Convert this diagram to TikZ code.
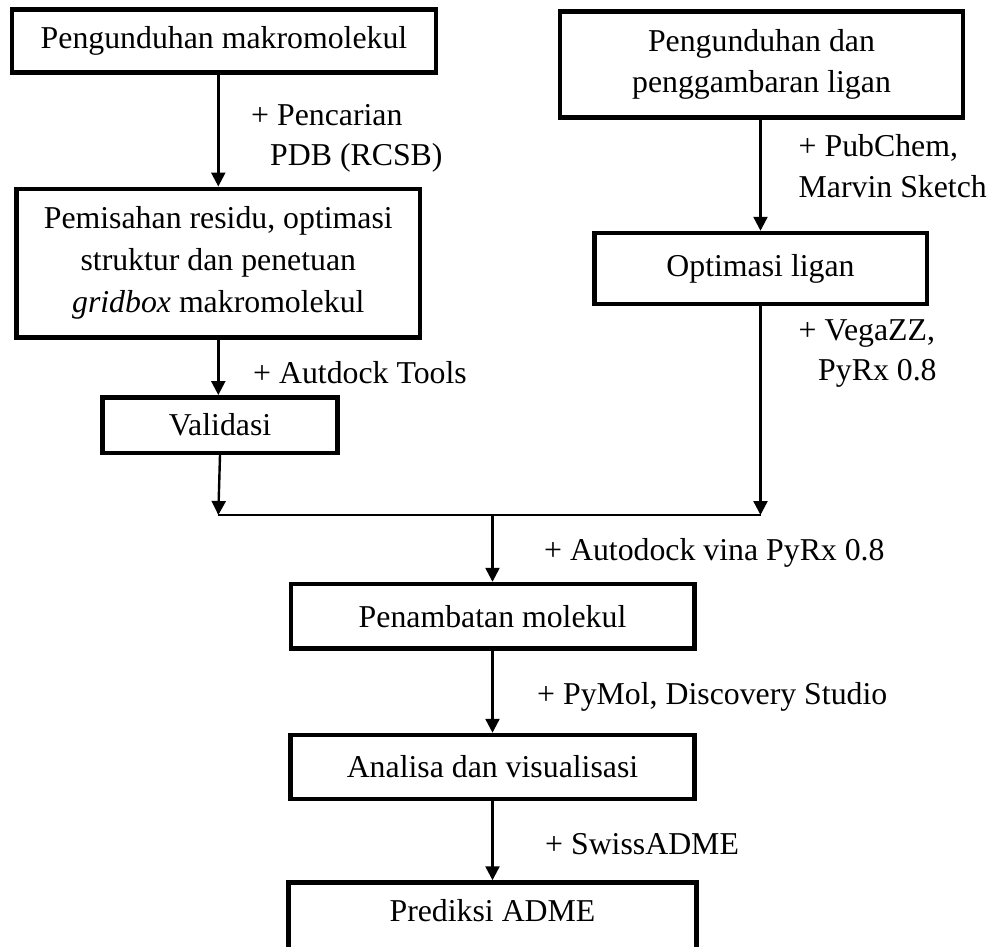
\documentclass[tikz,border=0pt]{standalone}
\usepackage{fontspec}
\setmainfont{Liberation Serif}
\usetikzlibrary{arrows.meta}
\begin{document}
\begin{tikzpicture}[x=1pt,y=-1pt,
  txt/.style={font={\fontsize{31.8}{41.7}\selectfont}},
  box/.style={txt, draw, line width=4.5pt, inner sep=0pt, align=center},
  lab/.style={txt, anchor=base west, inner sep=0pt},
  conn/.style={line width=2.4pt},
  arr/.style={conn, -{Triangle[width=14pt,length=14pt]}}]
\useasboundingbox (0,0) rectangle (993,946);
\clip (0,0) rectangle (993,946);
% boxes
\node[box, minimum width=424pt, minimum height=63pt] (b1) at (224,40.8) {Pengunduhan makromolekul};
\node[box, minimum width=403.5pt, minimum height=148.5pt] (b2) at (218.3,263) {Pemisahan residu, optimasi\\struktur dan penetuan\\\textit{gridbox} makromolekul};
\node[box, minimum width=235pt, minimum height=55.5pt] (b3) at (220,425) {Validasi};
\node[box, minimum width=403pt, minimum height=106pt] (r1) at (761.5,64.5) {Pengunduhan dan\\penggambaran ligan};
\node[box, minimum width=332.5pt, minimum height=71pt] (r2) at (760.5,268.5) {Optimasi ligan};
\node[box, minimum width=403.5pt, minimum height=64.5pt] (pen) at (492.5,616.3) {Penambatan molekul};
\node[box, minimum width=404pt, minimum height=64pt] (ana) at (492.5,767) {Analisa dan visualisasi};
\node[box, minimum width=408pt, text height=39.2pt, text depth=40pt, anchor=base] (pred) at (492.5,921.7) {Prediksi ADME};
% junction points
\coordinate (jl) at (218.3,515);
\coordinate (jr) at (760.5,515);
\coordinate (jm) at (492.5,515);
% connectors
\draw[arr] (b1.south -| b2.north) -- (b2.north);
\draw[arr] (b2.south) -- (b2.south |- b3.north);
\draw[arr] (b3.south) -- (jl);
\draw[arr] (r1.south -| r2.north) -- (r2.north);
\draw[arr] (r2.south) -- (jr);
\draw[conn] (jl) -- (jr);
\draw[arr] (jm) -- (pen.north);
\draw[arr] (pen.south) -- (ana.north);
\draw[arr] (ana.south) -- (pred.north);
% labels
\node[lab] (l1a) at (251,125) {+ Pencarian};
\node[lab] (l1b) at (270,165) {PDB (RCSB)};
\node[lab] (l2) at (253,383) {+ Autdock Tools};
\node[lab] (l3a) at (798.5,156) {+ PubChem,};
\node[lab] (l3b) at (798.5,197.5) {Marvin Sketch};
\node[lab] (l4a) at (798.5,340) {+ VegaZZ,};
\node[lab] (l4b) at (818,380) {PyRx 0.8};
\node[lab] (l5) at (544,560) {+ Autodock vina PyRx 0.8};
\node[lab] (l6) at (537,704) {+ PyMol, Discovery Studio};
\node[lab] (l7) at (545,854) {+ SwissADME};
\end{tikzpicture}
\end{document}
